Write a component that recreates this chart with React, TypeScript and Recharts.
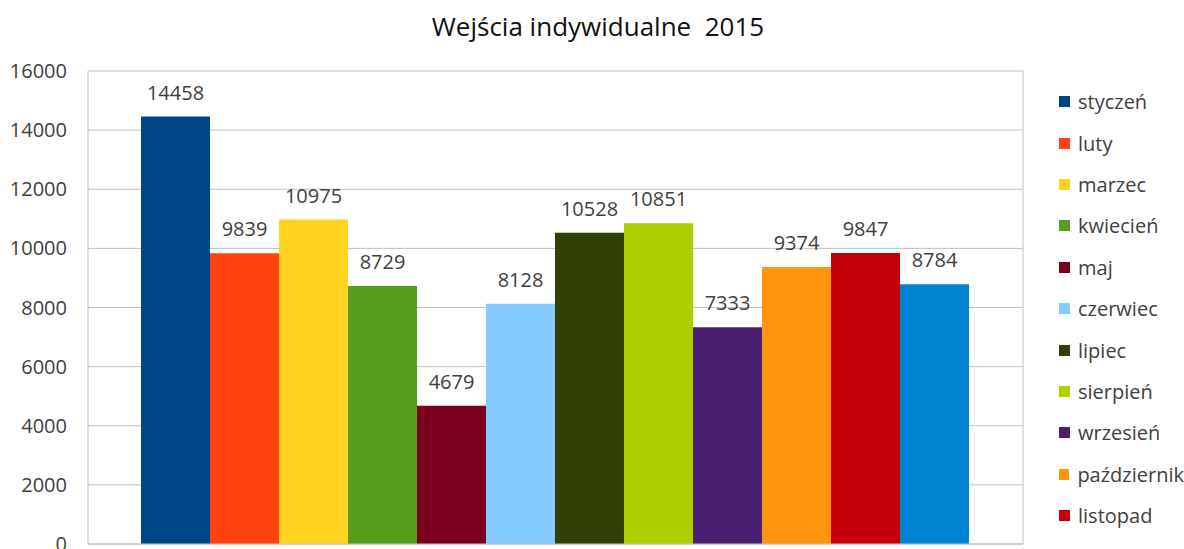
import React from 'react'
import {
  BarChart,
  Bar,
  XAxis,
  YAxis,
  CartesianGrid,
  Legend,
  LabelList,
} from 'recharts'

const months = [
  'styczeń',
  'luty',
  'marzec',
  'kwiecień',
  'maj',
  'czerwiec',
  'lipiec',
  'sierpień',
  'wrzesień',
  'październik',
  'listopad',
  'grudzień',
]
const visits = [14458, 9839, 10975, 8729, 4679, 8128, 10528, 10851, 7333, 9374, 9847, 8784]
const colors = [
  '#004586',
  '#ff420e',
  '#ffd320',
  '#579d1c',
  '#7e0021',
  '#83caff',
  '#314004',
  '#aecf00',
  '#4b1f6f',
  '#ff950e',
  '#c5000b',
  '#0084d1',
]
const yTicks = [0, 2000, 4000, 6000, 8000, 10000, 12000, 14000, 16000]

const FONT = '"Open Sans", sans-serif'
const TEXT = '#404040'
const GRID = '#c0c0c0'

// one category, each month is its own series
const row: Record<string, string | number> = { period: '2015' }
months.forEach((m, i) => {
  row['m' + i] = visits[i]
})
const data = [row]

function MonthLegend(props: any) {
  // keep calendar order (recharts sorts by name otherwise)
  const items = [...(props.payload || [])].sort(
    (a: any, b: any) => months.indexOf(a.value) - months.indexOf(b.value)
  )
  return (
    <div style={{ fontFamily: FONT, fontSize: 20, color: TEXT }}>
      {items.map((it: any) => (
        <div
          key={it.value}
          style={{ height: 41.4, display: 'flex', alignItems: 'center', whiteSpace: 'nowrap' }}
        >
          <span
            style={{
              display: 'inline-block',
              width: 11,
              height: 11,
              background: it.color,
              marginRight: 8,
            }}
          />
          {it.value}
        </div>
      ))}
    </div>
  )
}

export default function App() {
  return (
    <div
      style={{
        position: 'absolute',
        left: 0,
        top: 0,
        width: 1184,
        height: 549,
        overflow: 'hidden',
        background: '#fff',
      }}
    >
      <div
        style={{
          position: 'absolute',
          left: 0,
          top: 11,
          width: 1196,
          textAlign: 'center',
          fontFamily: FONT,
          fontSize: 26,
          lineHeight: '30px',
          color: '#111',
          whiteSpace: 'pre',
        }}
      >
        {'Wejścia indywidualne  2015'}
      </div>
      <BarChart
        width={1184}
        height={574}
        data={data}
        margin={{ top: 71, right: 160, bottom: 0, left: 0 }}
        barCategoryGap={53}
        barGap={0}
      >
        <CartesianGrid vertical={false} stroke={GRID} />
        <XAxis dataKey="period" tick={false} tickLine={false} axisLine={{ stroke: GRID }} height={30} />
        <YAxis
          domain={[0, 16000]}
          ticks={yTicks}
          interval={0}
          width={88}
          tickLine={false}
          axisLine={{ stroke: GRID }}
          tickMargin={15}
          tick={{ fill: TEXT, fontSize: 20, fontFamily: FONT }}
        />
        <YAxis
          yAxisId="r"
          orientation="right"
          domain={[0, 16000]}
          width={1}
          tick={false}
          tickLine={false}
          axisLine={{ stroke: GRID }}
        />
        <Legend
          layout="vertical"
          align="center"
          verticalAlign="middle"
          content={<MonthLegend />}
          wrapperStyle={{ left: 1059, top: 81, width: 125 }}
        />
        {months.map((m, i) => (
          <Bar key={m} dataKey={'m' + i} name={m} fill={colors[i]} isAnimationActive={false}>
            <LabelList
              dataKey={'m' + i}
              position="top"
              offset={17}
              fill={TEXT}
              fontSize={20}
              fontFamily={FONT}
            />
          </Bar>
        ))}
      </BarChart>
    </div>
  )
}
